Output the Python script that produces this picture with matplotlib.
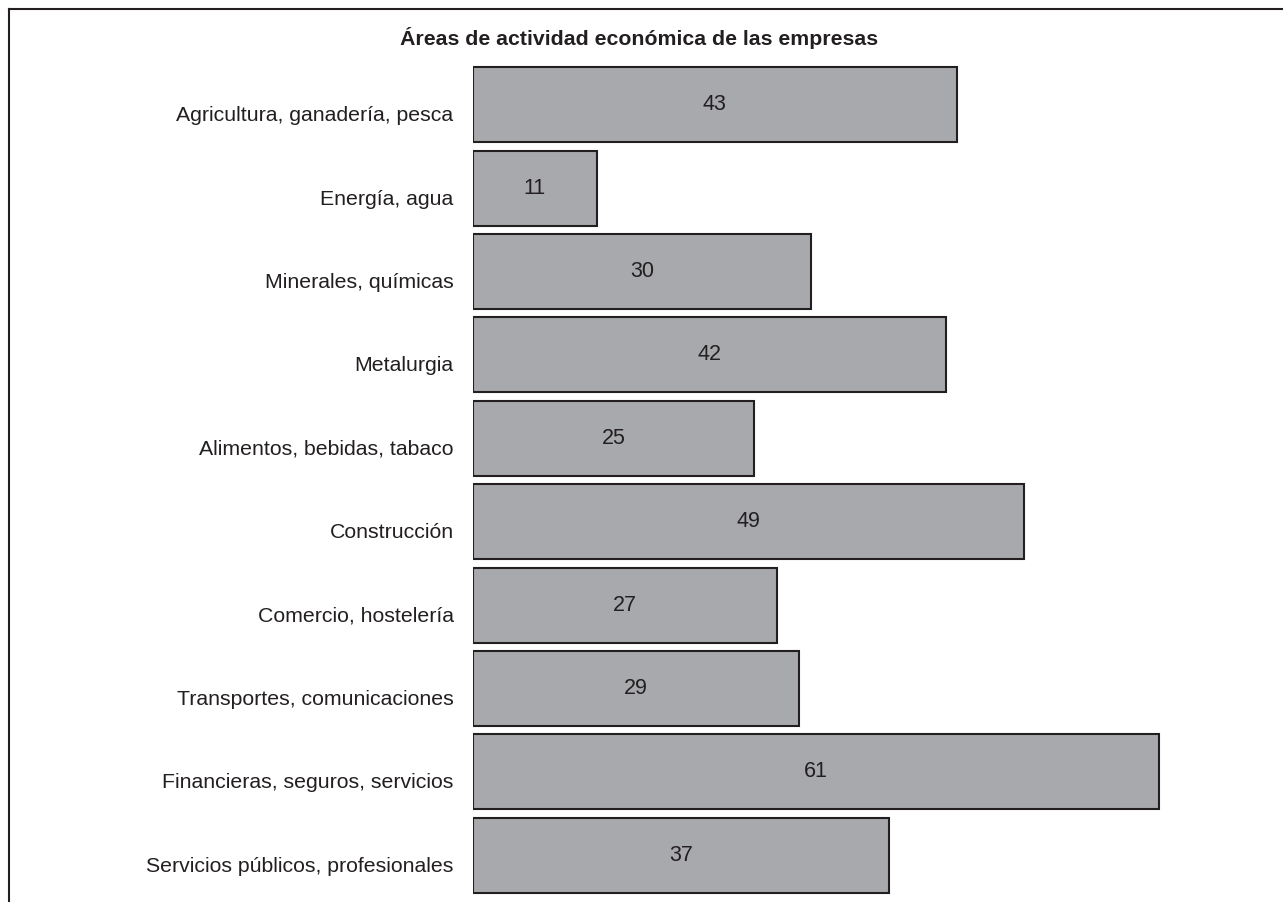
import matplotlib
matplotlib.use("Agg")
import matplotlib.pyplot as plt
from matplotlib.lines import Line2D
from matplotlib.transforms import ScaledTranslation

# datos
categorias = [
    "Agricultura, ganadería, pesca",
    "Energía, agua",
    "Minerales, químicas",
    "Metalurgia",
    "Alimentos, bebidas, tabaco",
    "Construcción",
    "Comercio, hostelería",
    "Transportes, comunicaciones",
    "Financieras, seguros, servicios",
    "Servicios públicos, profesionales",
]
valores = [43, 11, 30, 42, 25, 49, 27, 29, 61, 37]
titulo = "Áreas de actividad económica de las empresas"

plt.rcParams['font.family'] = ['Liberation Sans', 'DejaVu Sans']
texto = '#231f20'

fig = plt.figure(figsize=(12.83, 9.03), dpi=100)
ax = fig.add_axes([0.3687, 0.0055, 1 - 0.3687, 0.9237])

pos = list(range(len(categorias)))
ax.barh(pos, valores, height=0.9, color='#a7a9ac', edgecolor=texto, linewidth=1.5)

# etiquetas de valor, un poco por encima del centro de la barra
for y, v in zip(pos, valores):
    ax.annotate(str(v), xy=(v / 2, y), xytext=(0, 2.5), textcoords='offset points',
                ha='center', va='center_baseline', fontsize=15.5, color=texto)

ax.set_ylim(len(categorias) - 0.5, -0.5)
ax.set_xlim(0, 72)
ax.set_yticks(pos)
ax.set_yticklabels(categorias, fontsize=15.3, color=texto)
ax.tick_params(axis='y', length=0, pad=14)
ax.set_xticks([])
for s in ax.spines.values():
    s.set_visible(False)

# las categorias van algo por debajo del centro de la barra
bajar = ScaledTranslation(0, -8 / 100, fig.dpi_scale_trans)
for lab in ax.get_yticklabels():
    lab.set_transform(lab.get_transform() + bajar)

fig.text(0.498, 1 - 38 / 903, titulo, ha='center', va='center',
         fontsize=15.3, fontweight='bold', color=texto)

# marco (solo arriba e izquierda)
fig.add_artist(Line2D([8.5 / 1283, 8.5 / 1283], [0, 1 - 9.5 / 903], transform=fig.transFigure,
                      color=texto, linewidth=1.5))
fig.add_artist(Line2D([8.5 / 1283, 1], [1 - 9.5 / 903, 1 - 9.5 / 903], transform=fig.transFigure,
                      color=texto, linewidth=1.5))

fig.savefig("out.png", dpi=100)
